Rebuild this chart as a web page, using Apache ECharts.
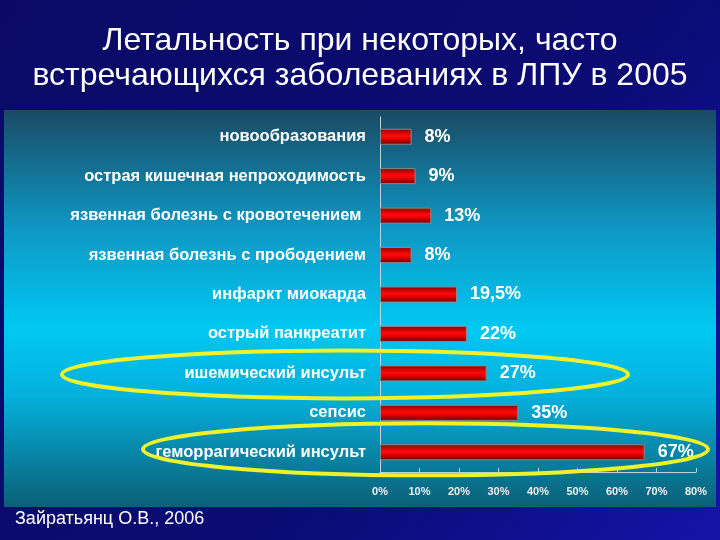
<!DOCTYPE html>
<html><head><meta charset="utf-8">
<script src="https://cdn.jsdelivr.net/npm/echarts@6/dist/echarts.min.js"></script>
<style>html,body{margin:0;padding:0;background:#0a0a6e}#c{width:720px;height:540px}</style>
</head><body><div id="c"></div>
<script>
const titleLines = ['Летальность при некоторых, часто', 'встречающихся заболеваниях в ЛПУ в 2005'];
const sourceText = 'Зайратьянц О.В., 2006';
const categories = ['новообразования','острая кишечная непроходимость','язвенная болезнь с кровотечением ','язвенная болезнь с прободением','инфаркт миокарда','острый панкреатит','ишемический инсульт','сепсис','геморрагический инсульт'];
const values = [8, 9, 13, 8, 19.5, 22, 27, 35, 67];
const xTicks = [0, 10, 20, 30, 40, 50, 60, 70, 80];
const highlighted = ['ишемический инсульт', 'геморрагический инсульт'];

const chart = echarts.init(document.getElementById('c'), null, {renderer: 'canvas'});
const fontFam = 'Liberation Sans, Arial, sans-serif';
const option = {
  backgroundColor: {type:'linear', x:0, y:0, x2:1, y2:1, colorStops:[{offset:0,color:'#0a0a66'},{offset:0.6,color:'#0b0b74'},{offset:1,color:'#1414a8'}]},
  animation: false,
  title: {
    text: titleLines.join('\n'), left: 'center', top: 19,
    textStyle: {color:'#ffffff', fontFamily: fontFam, fontWeight:'normal', fontSize:32, lineHeight:35}
  },
  graphic: [
    {type:'rect', z:-1, shape:{x:4, y:110, width:712, height:397},
     style:{fill:{type:'linear', x:0, y:0, x2:0, y2:1, colorStops:[
       {offset:0,color:'#1a4a64'},{offset:0.3,color:'#0e98c4'},{offset:0.55,color:'#00c8f2'},{offset:0.72,color:'#04b0dc'},{offset:1,color:'#0b5f76'}]}}},
    {type:'text', left:15, top:510, style:{text:sourceText, fill:'#ffffff', font:'18px ' + fontFam}}
  ],
  grid: {left:380, right:24, top:117, bottom:68},
  xAxis: {
    type:'value', min:xTicks[0], max:xTicks[xTicks.length-1], interval:xTicks[1]-xTicks[0],
    splitLine:{show:false},
    axisLine:{show:true, lineStyle:{color:'#b8d4de', width:1}},
    axisTick:{show:true, inside:true, length:4, lineStyle:{color:'#b8d4de'}},
    axisLabel:{formatter:'{value}%', color:'#f0f0f0', fontFamily:'Liberation Sans Narrow, Liberation Sans, Arial', fontWeight:'bold', fontSize:11, margin:14}
  },
  yAxis: {
    type:'category', data:categories, inverse:true,
    axisLine:{show:true, lineStyle:{color:'#b8d4de', width:1}},
    axisTick:{show:false},
    axisLabel:{color:'#ffffff', fontFamily:fontFam, fontWeight:'bold', fontSize:16.5, margin:14}
  },
  series: [{
    type:'bar', data:values, barWidth:16,
    itemStyle:{
      color:{type:'linear', x:0, y:0, x2:0, y2:1, colorStops:[{offset:0,color:'#8a0000'},{offset:0.45,color:'#ff0a0a'},{offset:0.6,color:'#f00000'},{offset:1,color:'#6a0000'}]},
      borderColor:'#8a8a8a', borderWidth:1
    },
    label:{show:true, position:'right', distance:13, color:'#ffffff', fontFamily:fontFam, fontWeight:'bold', fontSize:18,
      formatter: p => String(p.value).replace('.', ',') + '%'}
  }]
};
chart.setOption(option);

// highlight ellipses around selected categories
const ell = [];
const specs = [{cat:highlighted[0], leftX:62, rightX:628, ry:24, dy:1}, {cat:highlighted[1], leftX:143, rightX:708, ry:26, dy:-3}];
specs.forEach(s => {
  const cy = chart.convertToPixel({yAxisIndex:0}, s.cat) + s.dy;
  ell.push({type:'ellipse', z:100, shape:{cx:(s.leftX+s.rightX)/2, cy:cy, rx:(s.rightX-s.leftX)/2, ry:s.ry},
    style:{fill:'none', stroke:'#eef22a', lineWidth:4}});
});
chart.setOption({graphic: option.graphic.concat(ell)});
</script></body></html>
